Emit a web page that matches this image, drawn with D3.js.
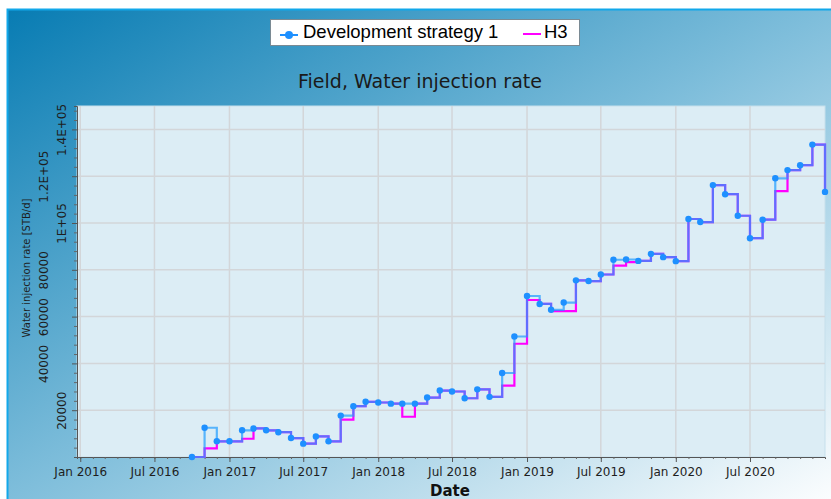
<!DOCTYPE html>
<html>
<head>
<meta charset="utf-8">
<script src="https://cdn.jsdelivr.net/npm/d3@7"></script>
<style>
  body { margin: 0; background: #fff; }
  svg { display: block; }
</style>
</head>
<body>
<svg width="831" height="499"></svg>
<script>
// monthly values
var meses = ["2016-10","2016-11","2016-12",
    "2017-01","2017-02","2017-03","2017-04","2017-05","2017-06","2017-07","2017-08","2017-09","2017-10","2017-11","2017-12",
    "2018-01","2018-02","2018-03","2018-04","2018-05","2018-06","2018-07","2018-08","2018-09","2018-10","2018-11","2018-12",
    "2019-01","2019-02","2019-03","2019-04","2019-05","2019-06","2019-07","2019-08","2019-09","2019-10","2019-11","2019-12",
    "2020-01","2020-02","2020-03","2020-04","2020-05","2020-06","2020-07","2020-08","2020-09","2020-10","2020-11","2020-12",
    "2021-01"];

var estrategia1 = [0, 12500, 6700,
    6700, 11400, 12200, 11400, 10600, 8100, 5700, 8800, 6700, 17700, 21700, 23600,
    23300, 22800, 22800, 22800, 25400, 28400, 28000, 25100, 28900, 25700, 35900, 51500,
    68800, 65400, 62900, 66000, 75500, 75200, 78000, 84300, 84400, 83800, 86800, 85400,
    83700, 101700, 100400, 116200, 112300, 103100, 93500, 101400, 119100, 122600, 124700, 133500,
    113300];

var h3 = [0, 3700, 6700,
    6700, 7800, 12200, 11400, 10600, 8100, 5700, 8800, 6700, 16000, 21700, 23600,
    23300, 22800, 17200, 22800, 25400, 28400, 28000, 25100, 28900, 25700, 30500, 48400,
    67100, 65400, 62300, 62300, 75500, 75200, 78000, 81800, 83300, 83800, 86800, 85400,
    83700, 101700, 100400, 116200, 112300, 103100, 93500, 101400, 113600, 122600, 124700, 133500,
    113300];

var valoresY = [20000, 40000, 60000, 80000, 100000, 120000, 140000];
var rotulosY = ["20000", "40000", "60000", "80000", "1E+05", "1.2E+05", "1.4E+05"];
var nomesSeries = ["Development strategy 1", "H3"];

var parseMes = d3.timeParse("%Y-%m");
var dados1 = meses.map(function(m, i){ return {data: parseMes(m), valor: estrategia1[i]}; });
var dados2 = meses.map(function(m, i){ return {data: parseMes(m), valor: h3[i]}; });

var svg = d3.select("svg");
var fonte = "'DejaVu Sans', Verdana, sans-serif";

// background panel
var defs = svg.append("defs");
var grad = defs.append("linearGradient").attr("id", "fundo")
    .attr("x1", 0).attr("y1", 0).attr("x2", 1).attr("y2", 1);
grad.append("stop").attr("offset", "0%").attr("stop-color", "#087cb3");
grad.append("stop").attr("offset", "50%").attr("stop-color", "#7fbedb");
grad.append("stop").attr("offset", "100%").attr("stop-color", "#fbfdfe");

svg.append("rect").attr("x", 8).attr("y", 10).attr("width", 823).attr("height", 489)
    .attr("fill", "url(#fundo)");
svg.append("path").attr("d", "M7.5,499V9.5H831")
    .attr("fill", "none").attr("stroke", "#12a8ea").attr("stroke-width", 2);

var margin = {top: 106, right: 6, bottom: 42, left: 77},
    width = 831 - margin.left - margin.right,
    height = 499 - margin.top - margin.bottom;

var eixoX = d3.scaleTime()
    .domain([new Date(2015, 11, 24), new Date(2021, 0, 1)])
    .range([0, width]);

var eixoY = d3.scaleLinear()
    .domain([0, 150000])
    .range([height, 0]);

var g = svg.append("g").attr("transform", "translate(" + margin.left + "," + margin.top + ")");

g.append("rect").attr("width", width).attr("height", height)
    .attr("fill", "#dcedf5").attr("stroke", "#c6dfeb");

// grid
var meiosAno = d3.timeMonth.every(6).range(new Date(2016, 0, 1), new Date(2020, 11, 31));
g.selectAll(".gridx").data(meiosAno).enter().append("line")
    .attr("x1", function(d){ return eixoX(d); }).attr("x2", function(d){ return eixoX(d); })
    .attr("y1", 0).attr("y2", height)
    .attr("stroke", "#d3d6d9").attr("stroke-width", 1.5);
g.selectAll(".gridy").data(valoresY).enter().append("line")
    .attr("y1", function(d){ return eixoY(d); }).attr("y2", function(d){ return eixoY(d); })
    .attr("x1", 0).attr("x2", width)
    .attr("stroke", "#d3d6d9").attr("stroke-width", 1.5);

// axes
var axX = g.append("g").attr("transform", "translate(0," + height + ")")
    .call(d3.axisBottom(eixoX).tickValues(d3.timeMonth.range(new Date(2016, 0, 1), new Date(2021, 0, 1)))
        .tickSize(2).tickFormat(""));
axX.selectAll("line").attr("stroke", "#666");
axX.select(".domain").attr("stroke", "#555");

var axXmaior = g.append("g").attr("transform", "translate(0," + height + ")")
    .call(d3.axisBottom(eixoX).tickValues(meiosAno).tickSize(5).tickPadding(5)
        .tickFormat(d3.timeFormat("%b %Y")));
axXmaior.select(".domain").remove();
axXmaior.selectAll("line").attr("stroke", "#555");
axXmaior.selectAll("text").attr("font-family", fonte).attr("font-size", 12).attr("fill", "#1e1e1e");

var menores = d3.range(4000, 150000, 4000).filter(function(v){ return v % 20000 !== 0; });
var axYmenor = g.append("g")
    .call(d3.axisLeft(eixoY).tickValues(menores).tickSize(3).tickFormat(""));
axYmenor.selectAll("line").attr("stroke", "#666");
axYmenor.select(".domain").attr("stroke", "#555");

// labels alternate between two columns so the long ones do not collide
var colunaRotulo = [-11, -29, -29, -29, -11, -29, -11];
var axY = g.append("g")
    .call(d3.axisLeft(eixoY).tickValues(valoresY).tickSize(5)
        .tickFormat(function(d, i){ return rotulosY[i]; }));
axY.select(".domain").remove();
axY.selectAll("line").attr("stroke", "#555");
axY.selectAll("text")
    .attr("font-family", fonte).attr("font-size", 12).attr("fill", "#1e1e1e")
    .attr("text-anchor", "middle")
    .attr("x", 0).attr("dy", 0)
    .attr("transform", function(d, i){ return "translate(" + colunaRotulo[i] + ",0) rotate(-90)"; });

// series
var linha = d3.line()
    .x(function(d){ return eixoX(d.data); })
    .y(function(d){ return eixoY(d.valor); })
    .curve(d3.curveStepAfter);

g.append("path").datum(dados2).attr("d", linha)
    .attr("fill", "none").attr("stroke", "#ff00ff").attr("stroke-width", 2.2);
g.append("path").datum(dados1).attr("d", linha)
    .attr("fill", "none").attr("stroke", "#1e9bff").attr("stroke-width", 2.2)
    .attr("stroke-opacity", 0.7);
g.selectAll(".ponto").data(dados1).enter().append("circle")
    .attr("cx", function(d){ return eixoX(d.data); })
    .attr("cy", function(d){ return eixoY(d.valor); })
    .attr("r", 3.2).attr("fill", "#1e90ff");

// titles
svg.append("text").attr("x", 420).attr("y", 88).attr("text-anchor", "middle")
    .attr("font-family", fonte).attr("font-size", 19).attr("fill", "#1a1a1a")
    .text("Field, Water injection rate");

svg.append("text").attr("transform", "translate(30,268) rotate(-90)").attr("text-anchor", "middle")
    .attr("font-family", fonte).attr("font-size", 10).attr("fill", "#1e1e1e")
    .text("Water injection rate [STB/d]");

svg.append("text").attr("x", 450).attr("y", 496).attr("text-anchor", "middle")
    .attr("font-family", fonte).attr("font-size", 15).attr("font-weight", "bold").attr("fill", "#111")
    .text("Date");

// legend
var leg = svg.append("g");
leg.append("rect").attr("x", 270.5).attr("y", 19.5).attr("width", 309).attr("height", 26)
    .attr("fill", "#fff").attr("stroke", "#7a8a94");
leg.append("line").attr("x1", 280).attr("x2", 298).attr("y1", 35).attr("y2", 35)
    .attr("stroke", "#1e90ff").attr("stroke-width", 2);
leg.append("circle").attr("cx", 289).attr("cy", 35).attr("r", 4).attr("fill", "#1e90ff");
leg.append("text").attr("x", 303).attr("y", 38).attr("font-family", "'Liberation Sans', Arial, sans-serif")
    .attr("font-size", 18.5).attr("fill", "#000").text(nomesSeries[0]);
leg.append("line").attr("x1", 523).attr("x2", 541).attr("y1", 34).attr("y2", 34)
    .attr("stroke", "#ff00ff").attr("stroke-width", 2);
leg.append("text").attr("x", 544).attr("y", 38).attr("font-family", "'Liberation Sans', Arial, sans-serif")
    .attr("font-size", 18.5).attr("fill", "#000").text(nomesSeries[1]);
</script>
</body>
</html>
